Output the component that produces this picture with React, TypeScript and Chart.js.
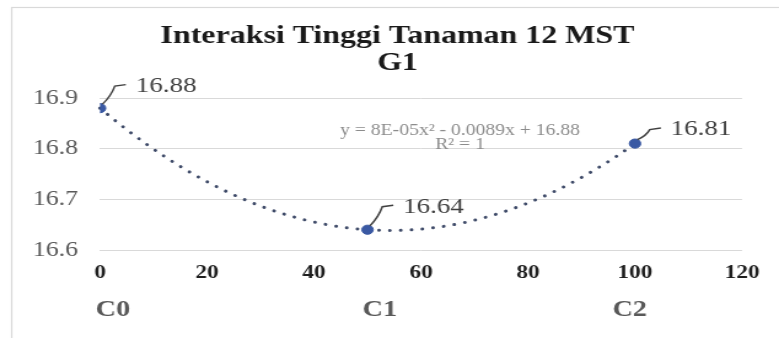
import React, { useEffect, useRef } from "react";
import { Chart, registerables } from "chart.js";

Chart.register(...registerables);

// ---- data ----
const TITLE_LINES = ["Interaksi Tinggi Tanaman 12 MST", "G1"];
const X_VALUES = [0, 50, 100];
const Y_VALUES = [16.88, 16.64, 16.81];
const CATEGORIES = ["C0", "C1", "C2"];
const CATEGORY_LABEL_AT = [2.4, 52.3, 99];
const X_TICKS = [0, 20, 40, 60, 80, 100, 120];
const Y_TICKS = [16.6, 16.7, 16.8, 16.9];
const TREND_LABEL = ["y = 8E-05x\u00B2 - 0.0089x + 16.88", "R\u00B2 = 1"];

// ---- layout (inner canvas is stretched horizontally to the window width) ----
const INNER_W = 634;
const INNER_H = 338;
const STRETCH = 779 / INNER_W;
const SERIF = "'Liberation Serif', 'Times New Roman', serif";

function fitQuadratic(xs: number[], ys: number[]) {
  let s0 = xs.length, s1 = 0, s2 = 0, s3 = 0, s4 = 0, t0 = 0, t1 = 0, t2 = 0;
  for (let i = 0; i < xs.length; i++) {
    const x = xs[i], y = ys[i];
    s1 += x; s2 += x * x; s3 += x * x * x; s4 += x * x * x * x;
    t0 += y; t1 += x * y; t2 += x * x * y;
  }
  const det = (m: number[][]) =>
    m[0][0] * (m[1][1] * m[2][2] - m[1][2] * m[2][1]) -
    m[0][1] * (m[1][0] * m[2][2] - m[1][2] * m[2][0]) +
    m[0][2] * (m[1][0] * m[2][1] - m[1][1] * m[2][0]);
  const M = [[s4, s3, s2], [s3, s2, s1], [s2, s1, s0]];
  const R = [t2, t1, t0];
  const D = det(M);
  const col = (k: number) => M.map((row, i) => row.map((v, j) => (j === k ? R[i] : v)));
  return { a: det(col(0)) / D, b: det(col(1)) / D, c: det(col(2)) / D };
}

const framePlugin = {
  id: "frame",
  beforeDraw(chart: any) {
    const ctx = chart.ctx;
    ctx.save();
    ctx.fillStyle = "#ffffff";
    ctx.fillRect(0, 0, chart.width, chart.height);
    ctx.strokeStyle = "#d9d9d9";
    ctx.lineWidth = 1.2;
    ctx.strokeRect(9.5, 7.5, chart.width + 20, chart.height + 20);
    ctx.restore();
  },
};

const trendPlugin = {
  id: "trend",
  beforeDatasetsDraw(chart: any) {
    const { a, b, c } = fitQuadratic(X_VALUES, Y_VALUES);
    const xs = chart.scales.x, ys = chart.scales.y;
    const ctx = chart.ctx;
    const p0 = xs.getPixelForValue(Math.min(...X_VALUES));
    const p1 = xs.getPixelForValue(Math.max(...X_VALUES));
    ctx.save();
    ctx.beginPath();
    for (let px = p0; ; px += 1) {
      const p = Math.min(px, p1);
      const v = xs.getValueForPixel(p);
      const py = ys.getPixelForValue(a * v * v + b * v + c);
      if (p === p0) ctx.moveTo(p, py);
      else ctx.lineTo(p, py);
      if (p >= p1) break;
    }
    ctx.setLineDash([0.01, 8.8]);
    ctx.lineCap = "round";
    ctx.lineWidth = 3;
    ctx.strokeStyle = "#3e4a68";
    ctx.stroke();
    ctx.restore();
  },
};

const LABEL_DY = [-22, -23, -14];

const labelPlugin = {
  id: "pointLabels",
  afterDatasetsDraw(chart: any) {
    const ctx = chart.ctx;
    const meta = chart.getDatasetMeta(0);
    ctx.save();
    meta.data.forEach((pt: any, i: number) => {
      const x = pt.x, y = pt.y;
      const dy = LABEL_DY[i] ?? -20;
      ctx.strokeStyle = "#404040";
      ctx.lineWidth = 1.5;
      ctx.beginPath();
      ctx.moveTo(x + 2, y - 4);
      ctx.quadraticCurveTo(x + 9, y + dy * 0.55, x + 12, y + dy);
      ctx.lineTo(x + 21, y + dy - 1.5);
      ctx.stroke();
      ctx.fillStyle = "#404040";
      ctx.font = `22px ${SERIF}`;
      ctx.textAlign = "left";
      ctx.textBaseline = "middle";
      ctx.fillText(Y_VALUES[i].toFixed(2), x + 29, y + dy);
    });
    ctx.restore();
  },
  afterDraw(chart: any) {
    const ctx = chart.ctx;
    ctx.save();
    ctx.fillStyle = "#8c8c8c";
    ctx.font = `16px ${SERIF}`;
    ctx.textAlign = "center";
    ctx.textBaseline = "middle";
    ctx.fillText(TREND_LABEL[0], 374.4, 131);
    ctx.fillText(TREND_LABEL[1], 374.4, 145);
    ctx.restore();
  },
};

export default function App() {
  const ref = useRef<HTMLCanvasElement | null>(null);

  useEffect(() => {
    document.body.style.margin = "0";
    document.body.style.overflow = "hidden";
    if (!ref.current) return;
    const chart = new Chart(ref.current, {
      type: "scatter",
      data: {
        datasets: [
          {
            data: X_VALUES.map((x, i) => ({ x, y: Y_VALUES[i] })),
            pointRadius: 4.6,
            pointBackgroundColor: "#3a59a3",
            pointBorderColor: "#3a59a3",
            showLine: false,
          },
        ],
      },
      options: {
        animation: false,
        responsive: false,
        layout: { padding: { left: 0, right: -13, top: 0, bottom: 0 } },
        plugins: {
          legend: { display: false },
          tooltip: { enabled: false },
          title: {
            display: true,
            text: TITLE_LINES,
            color: "#1a1a1a",
            font: { family: SERIF, size: 26, weight: "bold", lineHeight: 1.05 },
            padding: { top: 22.5, bottom: 20.9 },
          },
        },
        scales: {
          x: {
            type: "linear",
            position: "bottom",
            weight: 0,
            min: X_TICKS[0],
            max: X_TICKS[X_TICKS.length - 1],
            afterBuildTicks: (axis: any) => {
              axis.ticks = X_TICKS.map((v) => ({ value: v }));
            },
            afterFit: (axis: any) => {
              axis.height = 40;
            },
            grid: { display: false, drawTicks: false },
            border: { display: false },
            ticks: {
              autoSkip: false,
              maxRotation: 0,
              padding: 11.6,
              color: "#1f1f1f",
              font: { family: SERIF, size: 19, weight: "bold" },
              callback: (v: any) => String(v),
            },
          },
          cat: {
            type: "linear",
            position: "bottom",
            axis: "x",
            weight: 1,
            min: X_TICKS[0],
            max: X_TICKS[X_TICKS.length - 1],
            afterBuildTicks: (axis: any) => {
              axis.ticks = CATEGORY_LABEL_AT.map((v) => ({ value: v }));
            },
            afterFit: (axis: any) => {
              axis.height = 48;
            },
            grid: { display: false, drawTicks: false },
            border: { display: false },
            ticks: {
              autoSkip: false,
              maxRotation: 0,
              padding: 6.2,
              color: "#595959",
              font: { family: SERIF, size: 23, weight: "bold" },
              callback: (_v: any, i: number) => CATEGORIES[i],
            },
          },
          y: {
            type: "linear",
            position: "left",
            min: Y_TICKS[0],
            max: Y_TICKS[Y_TICKS.length - 1],
            afterBuildTicks: (axis: any) => {
              axis.ticks = Y_TICKS.map((v) => ({ value: v }));
            },
            afterFit: (axis: any) => {
              axis.width = 81.4;
            },
            grid: { color: "#d9d9d9", lineWidth: 1, drawTicks: false },
            border: { display: false },
            ticks: {
              padding: 18,
              color: "#595959",
              font: { family: SERIF, size: 21 },
              callback: (v: any) => Number(v).toFixed(1),
            },
          },
          spacer: {
            type: "linear",
            position: "right",
            axis: "y",
            display: true,
            min: Y_TICKS[0],
            max: Y_TICKS[Y_TICKS.length - 1],
            afterFit: (axis: any) => {
              axis.width = 43.1;
            },
            grid: { display: false, drawTicks: false },
            border: { display: false },
            ticks: { display: false },
          },
        },
      },
      plugins: [framePlugin, trendPlugin, labelPlugin],
    } as any);
    return () => chart.destroy();
  }, []);

  return (
    <div
      style={{
        width: INNER_W,
        height: INNER_H,
        transform: `scaleX(${STRETCH})`,
        transformOrigin: "0 0",
      }}
    >
      <canvas ref={ref} width={INNER_W} height={INNER_H} />
    </div>
  );
}
